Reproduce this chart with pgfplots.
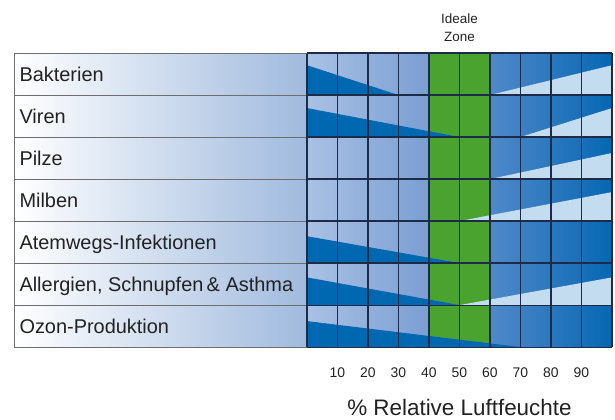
\documentclass[border=0pt]{standalone}
\usepackage{pgfplots}
\pgfplotsset{compat=1.18}
\usepackage{fontspec}
\setmainfont{Liberation Sans}
\definecolor{labelR}{HTML}{A0BADE}
\definecolor{leftA}{HTML}{AAC1E4}
\definecolor{leftB}{HTML}{7A9ED3}
\definecolor{zoneg}{HTML}{49A32E}
\definecolor{rightA}{HTML}{5089C9}
\definecolor{rightB}{HTML}{0667B2}
\definecolor{darkb}{HTML}{0067B1}
\definecolor{lightb}{HTML}{C4DCF0}
\definecolor{gridc}{HTML}{1C2B48}
\definecolor{borderc}{HTML}{6E6E6E}
\definecolor{txt}{HTML}{222222}
\tikzset{rowlab/.style={anchor=base west, xshift=2bp, yshift=-7bp, text=txt, font=\fontsize{20}{24}\selectfont}}
\begin{document}
\begin{tikzpicture}
\begin{axis}[
  scale only axis, width=597.8bp, height=294bp,
  xmin=-96, xmax=100, ymin=0, ymax=7, y dir=reverse,
  axis line style={draw=none}, major tick length=0,
  ytick=\empty, xtick={10,20,...,90},
  /pgf/number format/assume math mode=true,
  xticklabel style={font=\fontsize{14}{16}\selectfont, text=txt, yshift=-17bp},
  clip=false,
]
% backgrounds
\addplot[draw=none, left color=white, right color=labelR] coordinates {(-96,0) (0,0) (0,7) (-96,7)} -- cycle;
\addplot[draw=none, left color=leftA, right color=leftB] coordinates {(0,0) (40,0) (40,7) (0,7)} -- cycle;
\addplot[draw=none, fill=zoneg] coordinates {(40,0) (60,0) (60,7) (40,7)} -- cycle;
\addplot[draw=none, left color=rightA, right color=rightB] coordinates {(60,0) (100,0) (100,7) (60,7)} -- cycle;
% low-humidity wedges (dark)
\addplot[draw=none, fill=darkb] coordinates {(0,1) (0,0.29) (30,1)} -- cycle;
\addplot[draw=none, fill=darkb] coordinates {(0,2) (0,1.31) (50,2)} -- cycle;
\addplot[draw=none, fill=darkb] coordinates {(0,5) (0,4.36) (50,5)} -- cycle;
\addplot[draw=none, fill=darkb] coordinates {(0,6) (0,5.34) (50,6)} -- cycle;
\addplot[draw=none, fill=darkb] coordinates {(0,7) (0,6.38) (70,7)} -- cycle;
% high-humidity wedges (light)
\addplot[draw=none, fill=lightb] coordinates {(60,1) (100,1) (100,0.29)} -- cycle;
\addplot[draw=none, fill=lightb] coordinates {(70,2) (100,2) (100,1.31)} -- cycle;
\addplot[draw=none, fill=lightb] coordinates {(60,3) (100,3) (100,2.38)} -- cycle;
\addplot[draw=none, fill=lightb] coordinates {(50,4) (100,4) (100,3.31)} -- cycle;
\addplot[draw=none, fill=lightb] coordinates {(50,6) (100,6) (100,5.34)} -- cycle;
% grid
\pgfplotsinvokeforeach{1,...,6}{
  \draw[borderc, line width=1bp] (axis cs:-96,#1) -- (axis cs:0,#1);
  \draw[gridc, line width=1.2bp] (axis cs:0,#1) -- (axis cs:100,#1);
}
\pgfplotsinvokeforeach{0,10,...,100}{
  \draw[gridc, line width=1.2bp] (axis cs:#1,0) -- (axis cs:#1,7);
}
\draw[borderc, line width=1bp] (axis cs:0,0) -- (axis cs:-96,0) -- (axis cs:-96,7) -- (axis cs:0,7);
\draw[gridc, line width=1.2bp] (axis cs:0,0) -- (axis cs:100,0);
\draw[gridc, line width=1.2bp] (axis cs:0,7) -- (axis cs:100,7);
% row labels
\node[rowlab] at (axis cs:-96,0.5) {Bakterien};
\node[rowlab] at (axis cs:-96,1.5) {Viren};
\node[rowlab] at (axis cs:-96,2.5) {Pilze};
\node[rowlab] at (axis cs:-96,3.5) {Milben};
\node[rowlab] at (axis cs:-96,4.5) {Atemwegs-Infektionen};
\node[rowlab] at (axis cs:-96,5.5) {Allergien, Schnupfen\,\& Asthma};
\node[rowlab] at (axis cs:-96,6.5) {Ozon-Produktion};
% zone label
\node[anchor=base, text=txt, font=\fontsize{13.5}{16}\selectfont, yshift=30bp] at (axis cs:50,0) {Ideale};
\node[anchor=base, text=txt, font=\fontsize{13.5}{16}\selectfont, yshift=12bp] at (axis cs:50,0) {Zone};
% axis title
\node[anchor=base, text=txt, font=\fontsize{22.5}{26}\selectfont, yshift=-68bp] at (axis cs:50,7) {\% Relative Luftfeuchte};
\end{axis}
\path ([shift={(-14bp,-72bp)}]current axis.south west) rectangle ([shift={(3bp,53bp)}]current axis.north east);
\end{tikzpicture}
\end{document}
